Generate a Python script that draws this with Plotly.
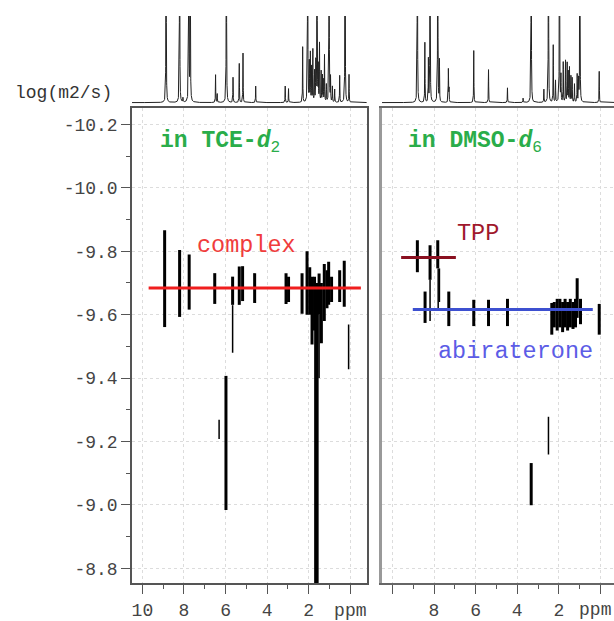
import numpy as np
import plotly.graph_objects as go

W, H = 614, 621

# ---------------- 1D projections (peak lists: ppm, relative height; >1 = clipped) -------------
tce_peak_ppm = [8.86, 8.21, 8.05, 7.77, 7.70, 6.48, 6.40, 5.96, 5.64, 5.34, 5.16, 4.55,
                3.13, 2.97, 2.29, 2.05, 1.97, 1.92, 1.86, 1.80, 1.72, 1.66, 1.60, 1.54,
                1.48, 1.40, 1.34, 1.30, 1.24, 1.15, 1.02, 0.95, 0.86, 0.75, 0.51, 0.25, 0.06]
tce_peak_height = [3, 3, 0.05, 3, 3, 0.32, 0.10, 3, 0.29, 0.45, 0.57, 0.19,
                   0.19, 0.16, 0.64, 3, 0.45, 0.56, 0.40, 0.60, 0.35, 0.45, 3, 0.40,
                   0.67, 0.35, 0.30, 0.25, 0.54, 0.20, 3, 0.28, 0.18, 0.15, 0.31, 3, 0.32]

dmso_peak_ppm = [8.80, 8.44, 8.27, 8.19, 7.82, 7.74, 7.31, 7.28, 6.09, 5.38, 4.47, 3.72,
                 3.33, 2.72, 2.50, 2.27, 2.16, 1.97, 1.90, 1.79, 1.68, 1.60, 1.55, 1.49,
                 1.42, 1.36, 1.25, 1.12, 1.05, 0.99, 0.06]
dmso_peak_height = [3, 0.69, 0.49, 3, 3, 0.48, 0.38, 0.20, 0.60, 0.38, 0.17, 0.05,
                    3, 0.15, 3, 0.66, 0.25, 3, 0.30, 0.46, 0.48, 0.45, 0.35, 0.40,
                    0.30, 0.28, 0.21, 0.32, 0.25, 3, 0.36]

# ---------------- DOSY cross peaks: ppm, logD upper end, logD lower end ----------------------
tce_strong_ppm = [8.93, 8.21, 7.75, 6.52, 5.66, 5.34, 5.18, 4.60, 3.09, 2.97, 2.32, 2.08,
                  1.95, 1.84, 1.72, 1.50, 1.39, 1.25, 1.12, 1.04, 0.90, 0.51, 0.29, 5.98]
tce_strong_top = [-9.866, -9.804, -9.790, -9.731, -9.720, -9.752, -9.753, -9.731, -9.731,
                  -9.720, -9.731, -9.800, -9.750, -9.720, -9.720, -9.730, -9.700, -9.760,
                  -9.740, -9.767, -9.720, -9.740, -9.770, -9.407]
tce_strong_bot = [-9.561, -9.593, -9.616, -9.634, -9.631, -9.631, -9.643, -9.637, -9.634,
                  -9.640, -9.603, -9.600, -9.600, -9.506, -9.550, -9.600, -9.510, -9.580,
                  -9.620, -9.631, -9.640, -9.640, -9.625, -8.984]
tce_main_ppm = [1.63]
tce_main_top = [-9.700]
tce_main_bot = [-8.700]
tce_weak_ppm = [6.31, 5.66, 0.08, 1.50]
tce_weak_top = [-9.269, -9.630, -9.569, -9.600]
tce_weak_bot = [-9.208, -9.480, -9.428, -9.400]

dmso_strong_ppm = [8.80, 8.43, 8.19, 7.82, 7.29, 6.09, 5.38, 4.47, 2.34, 2.22, 2.08, 1.95,
                   1.82, 1.70, 1.58, 1.45, 1.32, 1.20, 1.12, 0.96, 0.06, 3.33]
dmso_strong_top = [-9.835, -9.673, -9.819, -9.835, -9.673, -9.647, -9.647, -9.650, -9.637,
                   -9.640, -9.650, -9.650, -9.640, -9.650, -9.640, -9.650, -9.640, -9.650,
                   -9.715, -9.650, -9.634, -9.132]
dmso_strong_bot = [-9.734, -9.574, -9.710, -9.746, -9.564, -9.564, -9.564, -9.564, -9.537,
                   -9.560, -9.550, -9.560, -9.545, -9.560, -9.550, -9.560, -9.555, -9.560,
                   -9.590, -9.570, -9.537, -8.999]
dmso_weak_ppm = [8.19, 7.80, 7.74, 2.50]
dmso_weak_top = [-9.710, -9.746, -9.746, -9.278]
dmso_weak_bot = [-9.580, -9.621, -9.640, -9.159]

# ---------------- fitted diffusion coefficients ----------------------------------------------
complex_logD, complex_span = -9.684, [9.70, -0.51]
tpp_logD, tpp_span = -9.780, [9.58, 6.95]
abi_logD, abi_span = -9.616, [9.02, 0.37]

# ---------------- axes values -----------------------------------------------------------------
y_ticks = [-10.2, -10.0, -9.8, -9.6, -9.4, -9.2, -9.0, -8.8]
y_ticktext = ["-10.2", "-10.0", "-9.8", "-9.6", "-9.4", "-9.2", "-9.0", "-8.8"]
y_minor = [-10.1, -9.9, -9.7, -9.5, -9.3, -9.1, -8.9]
x_ticks = [10, 8, 6, 4, 2, 0]
x_ticktext_left = ["10", "8", "6", "4", "2", "ppm"]
x_ticktext_right = [" ", "8", "6", "4", "2", " "]
x_minor = [9, 7, 5, 3, 1]
unit_pos_right = [0.25]     # unit label nudged so it stays inside the page edge
unit_text_right = ["ppm"]

MONO = "Liberation Mono, Courier New, monospace"


def spectrum(ppm, heights, grid, gamma=0.008):
    y = np.zeros_like(grid)
    for p, h in zip(ppm, heights):
        y += h * gamma ** 2 / ((grid - p) ** 2 + gamma ** 2)
    return y


def segments(xs, tops, bots):
    X, Y = [], []
    for x, t, b in zip(xs, tops, bots):
        X += [x, x, None]
        Y += [t, b, None]
    return X, Y


grid = np.arange(-0.8, 10.5, 0.002)

fig = go.Figure()

# 1D spectra
fig.add_trace(go.Scatter(x=grid, y=spectrum(tce_peak_ppm, tce_peak_height, grid),
                         mode="lines", line=dict(color="#222", width=1),
                         xaxis="x3", yaxis="y3", hoverinfo="skip"))
fig.add_trace(go.Scatter(x=grid, y=spectrum(dmso_peak_ppm, dmso_peak_height, grid),
                         mode="lines", line=dict(color="#222", width=1),
                         xaxis="x4", yaxis="y4", hoverinfo="skip"))

# DOSY cross peaks
for xs, ts, bs, w, ax in [
    (tce_strong_ppm, tce_strong_top, tce_strong_bot, 3, ("x", "y")),
    (tce_main_ppm, tce_main_top, tce_main_bot, 4.5, ("x", "y")),
    (tce_weak_ppm, tce_weak_top, tce_weak_bot, 1.5, ("x", "y")),
    (dmso_strong_ppm, dmso_strong_top, dmso_strong_bot, 3, ("x2", "y2")),
    (dmso_weak_ppm, dmso_weak_top, dmso_weak_bot, 1.5, ("x2", "y2")),
]:
    X, Y = segments(xs, ts, bs)
    fig.add_trace(go.Scatter(x=X, y=Y, mode="lines", line=dict(color="#000", width=w),
                             xaxis=ax[0], yaxis=ax[1], hoverinfo="skip"))

# fitted lines
fig.add_trace(go.Scatter(x=complex_span, y=[complex_logD] * 2, mode="lines",
                         line=dict(color="#f01e1e", width=3), xaxis="x", yaxis="y"))
fig.add_trace(go.Scatter(x=tpp_span, y=[tpp_logD] * 2, mode="lines",
                         line=dict(color="#8a1020", width=3), xaxis="x2", yaxis="y2"))
fig.add_trace(go.Scatter(x=abi_span, y=[abi_logD] * 2, mode="lines",
                         line=dict(color="#3d50d0", width=3), xaxis="x2", yaxis="y2"))

# invisible trace so the overlay axis carrying the right-hand unit label is drawn
fig.add_trace(go.Scatter(x=[None], y=[None], mode="lines", xaxis="x5", yaxis="y2",
                         hoverinfo="skip", showlegend=False))

x_left = [132 / W, 366.7 / W]
x_right = [382 / W, 1.0]
y_2d = [1 - 587 / H, 1 - 109 / H]
y_1d = [1 - 105 / H, 1 - 16 / H]

tickfont = dict(family=MONO, size=18, color="#444")
grid_kw = dict(showgrid=True, gridcolor="#dcdcdc", griddash="dot", gridwidth=1, zeroline=False)
minor_x = dict(tickvals=x_minor, ticks="outside", ticklen=4, tickcolor="#555", showgrid=False)

fig.update_layout(
    width=W, height=H, margin=dict(l=0, r=0, t=0, b=0),
    paper_bgcolor="white", plot_bgcolor="white", showlegend=False,
    xaxis=dict(domain=x_left, range=[10.5, -0.79], anchor="y",
               tickvals=x_ticks, ticktext=x_ticktext_left, ticks="outside", ticklen=9,
               tickcolor="#555", tickfont=tickfont, minor=minor_x,
               showline=True, mirror=True, linecolor="#555", linewidth=1.5, **grid_kw),
    yaxis=dict(domain=y_2d, range=[-8.753, -10.251], anchor="x",
               tickvals=y_ticks, ticktext=y_ticktext, ticks="outside", ticklen=9,
               tickcolor="#555", tickfont=tickfont,
               minor=dict(tickvals=y_minor, ticks="outside", ticklen=4, tickcolor="#555",
                          showgrid=False),
               showline=True, mirror=True, linecolor="#555", linewidth=1.5, **grid_kw),
    xaxis2=dict(domain=x_right, range=[10.5, -0.65], anchor="y2",
                tickvals=x_ticks, ticktext=x_ticktext_right, ticks="outside", ticklen=9,
                tickcolor="#555", tickfont=tickfont, minor=minor_x,
                showline=True, mirror=True, linecolor="#666", linewidth=1.5, **grid_kw),
    xaxis5=dict(overlaying="x2", anchor="y2", side="bottom", range=[10.5, -0.65],
                tickvals=unit_pos_right, ticktext=unit_text_right, ticks="outside",
                ticklen=9, tickcolor="rgba(0,0,0,0)", tickfont=tickfont,
                showgrid=False, showline=False, zeroline=False),
    yaxis2=dict(domain=y_2d, range=[-8.753, -10.251], anchor="x2",
                tickvals=y_ticks, showticklabels=False, ticks="",
                showline=True, mirror=False, linecolor="#999", linewidth=3, **grid_kw),
    xaxis3=dict(domain=x_left, range=[10.5, -0.79], anchor="y3", visible=False),
    yaxis3=dict(domain=y_1d, range=[-0.02, 1.0], anchor="x3", visible=False),
    xaxis4=dict(domain=x_right, range=[10.5, -0.65], anchor="y4", visible=False),
    yaxis4=dict(domain=y_1d, range=[-0.02, 1.0], anchor="x4", visible=False),
)

ann_font = dict(family=MONO, size=23.5)
fig.add_annotation(x=63 / W, y=1 - 94 / H, xref="paper", yref="paper", text="log(m2/s)",
                   xanchor="center", yanchor="middle",
                   showarrow=False, font=dict(family=MONO, size=18, color="#333"))
fig.add_annotation(x=9.25, y=-10.144, xref="x", yref="y", xanchor="left",
                   text="<b>in TCE-<i>d</i></b><sub>2</sub>", showarrow=False,
                   font=dict(family=MONO, size=23, color="#2aad4a"))
fig.add_annotation(x=9.33, y=-10.144, xref="x2", yref="y2", xanchor="left",
                   text="<b>in DMSO-<i>d</i></b><sub>6</sub>", showarrow=False,
                   font=dict(family=MONO, size=23, color="#2aad4a"))
fig.add_annotation(x=4.97, y=-9.818, xref="x", yref="y", text="complex", showarrow=False,
                   font=dict(ann_font, color="#f03c3c"))
fig.add_annotation(x=5.87, y=-9.856, xref="x2", yref="y2", text="TPP", showarrow=False,
                   font=dict(ann_font, color="#a0182c"))
fig.add_annotation(x=4.10, y=-9.485, xref="x2", yref="y2", text="abiraterone", showarrow=False,
                   font=dict(ann_font, color="#5c5ce6"))

fig.write_html("out.html", config={"displayModeBar": False},
               post_script="document.body.style.margin='0';document.body.style.overflow='hidden';"
                           "document.documentElement.style.overflow='hidden';")
